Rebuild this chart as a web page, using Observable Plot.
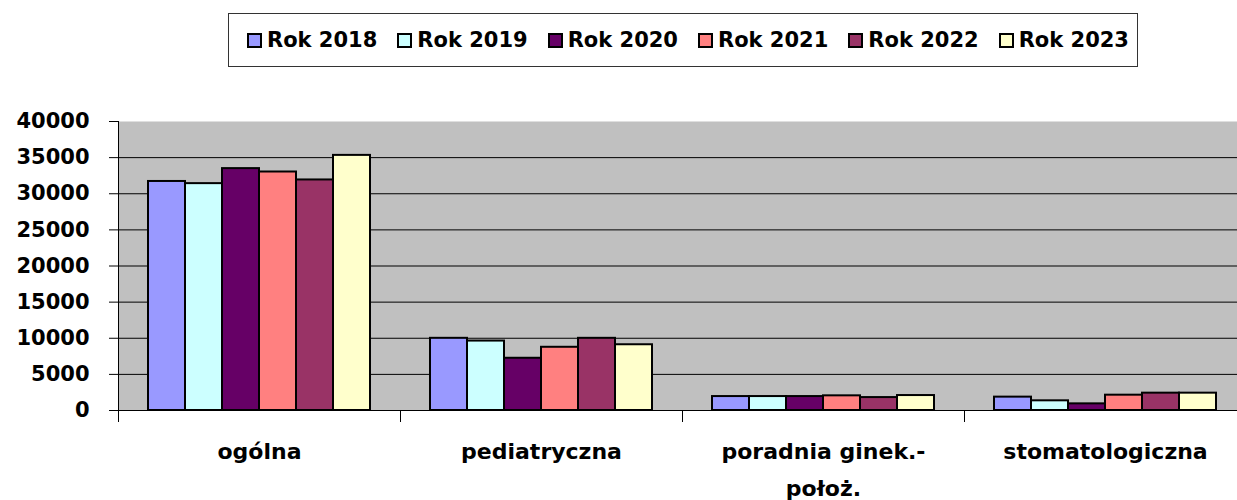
<!DOCTYPE html>
<html>
<head>
<meta charset="utf-8">
<script src="https://cdn.jsdelivr.net/npm/d3@7"></script>
<script src="https://cdn.jsdelivr.net/npm/@observablehq/plot@0.6"></script>
<style>
  html, body { margin: 0; padding: 0; background: #fff; overflow: hidden; }
  body { font-family: "DejaVu Sans", sans-serif; width: 1237px; height: 500px; }
  #legendWrap { position: relative; height: 80px; }
  #legend {
    position: absolute; left: 228px; top: 13px; width: 908px; height: 52px;
    border: 1px solid #333; display: flex; align-items: center; box-sizing: content-box;
    padding-left: 0; white-space: nowrap;
  }
  .item { display: flex; align-items: center; margin-right: 20px; font-weight: bold; font-size: 21px; color: #000; white-space: nowrap; flex: none; }
  .item:first-child { margin-left: 18px; }
  .sw { width: 11px; height: 11px; border: 2px solid #000; margin-right: 5px; flex: none; }
  #chart svg { display: block; overflow: visible; }
</style>
</head>
<body>
<div id="legendWrap"><div id="legend"></div></div>
<div id="chart"></div>
<script>
const categories = ["ogólna", "pediatryczna", "poradnia ginek.-położ.", "stomatologiczna"];
const categoryLabels = ["ogólna", "pediatryczna", "poradnia ginek.-\npołoż.", "stomatologiczna"];
const years = ["Rok 2018", "Rok 2019", "Rok 2020", "Rok 2021", "Rok 2022", "Rok 2023"];
const colors = ["#9999FF", "#CCFFFF", "#660066", "#FF8080", "#993366", "#FFFFCC"];

const v2018 = [31700, 9990, 1930, 1850];
const v2019 = [31400, 9610, 1930, 1340];
const v2020 = [33480, 7230, 1930, 920];
const v2021 = [33010, 8750, 2030, 2120];
const v2022 = [31910, 9990, 1790, 2400];
const v2023 = [35310, 9100, 2070, 2400];
const yTicks = [0, 5000, 10000, 15000, 20000, 25000, 30000, 35000, 40000];

const series = [v2018, v2019, v2020, v2021, v2022, v2023];
const data = [];
categories.forEach((c, i) => years.forEach((y, j) => data.push({cat: c, year: y, value: series[j][i]})));

// legend
const legend = document.getElementById("legend");
years.forEach((y, j) => {
  const it = document.createElement("div");
  it.className = "item";
  const sw = document.createElement("div");
  sw.className = "sw";
  sw.style.background = colors[j];
  const t = document.createElement("span");
  t.textContent = y;
  it.appendChild(sw); it.appendChild(t);
  legend.appendChild(it);
});

const W = 1237, H = 420, MT = 41, MB = 90, ML = 117, MR = -9;
const innerH = H - MT - MB;
const labelOf = new Map(categories.map((c, i) => [c, categoryLabels[i]]));

const chart = Plot.plot({
  width: W, height: H,
  marginTop: MT, marginBottom: MB, marginLeft: ML, marginRight: MR,
  style: {fontFamily: "DejaVu Sans", background: "transparent", overflow: "visible"},
  fx: {domain: categories, padding: 0, axis: null, label: null},
  x: {domain: years, paddingInner: 0, paddingOuter: 0.75, axis: null},
  y: {domain: [0, 40000], axis: null, label: null},
  color: {domain: years, range: colors},
  marks: [
    Plot.frame({fill: "#C0C0C0", facet: "super"}),
    Plot.ruleY(yTicks.filter(d => d > 0 && d < 40000), {stroke: "#000", strokeWidth: 1}),
    Plot.barY(data, {fx: "cat", x: "year", y: "value", fill: "year", stroke: "#000", strokeWidth: 2}),
    Plot.ruleY([0], {stroke: "#000", strokeWidth: 1}),
    Plot.frame({anchor: "left", stroke: "#000", strokeWidth: 1, insetBottom: -11, facet: "super"}),
    Plot.frame({anchor: "left", stroke: "#000", strokeWidth: 1, insetTop: innerH, insetBottom: -11}),
    Plot.axisY(yTicks, {anchor: "left", label: null, tickSize: 9, tickPadding: 20, fontSize: 21, fontWeight: "bold", tickFormat: d => String(d), stroke: "#000"}),
    Plot.axisFx({anchor: "bottom", label: null, tickSize: 0, tickPadding: 23, fontSize: 22, fontWeight: "bold", lineHeight: 1.65, tickFormat: d => labelOf.get(d)})
  ]
});
document.getElementById("chart").appendChild(chart);
</script>
</body>
</html>
